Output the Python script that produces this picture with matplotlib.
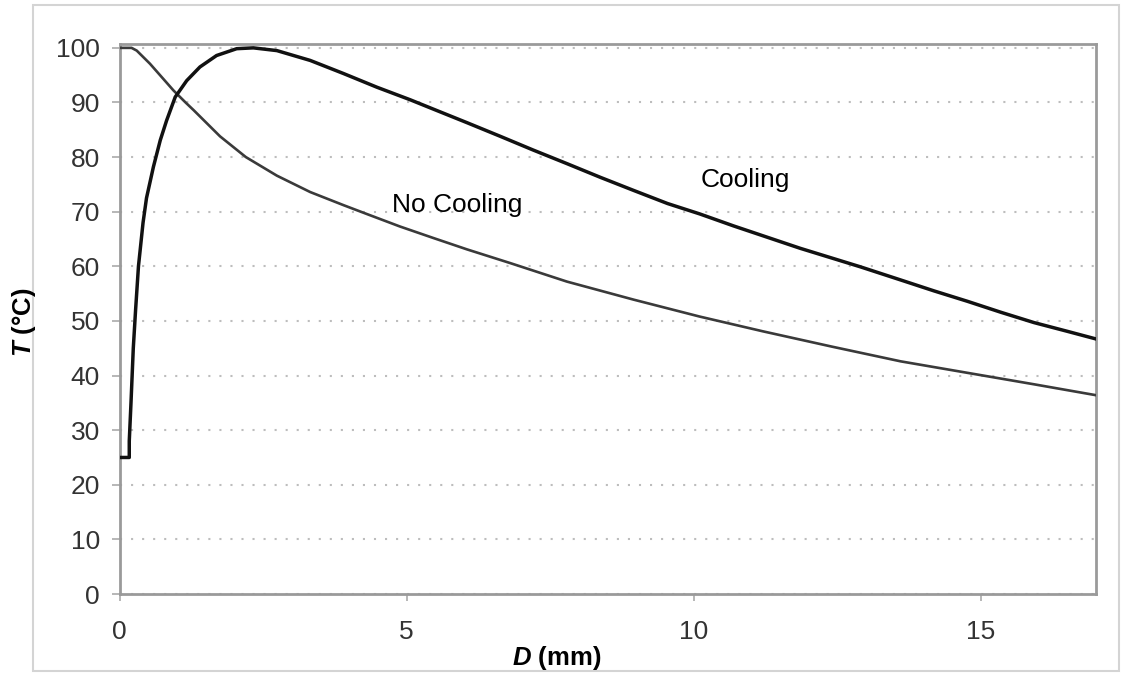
import matplotlib.pyplot as plt
from matplotlib.patches import Rectangle

plt.rcParams['font.family'] = ['Liberation Sans', 'DejaVu Sans']
plt.rcParams['mathtext.fontset'] = 'custom'
plt.rcParams['mathtext.bfit'] = 'Liberation Sans:bold:italic'

# Cooling curve (D in mm, T in degC)
cool_d = [0, 0.17, 0.17, 0.2, 0.24, 0.28, 0.33, 0.41, 0.47, 0.59, 0.71, 0.82,
          0.97, 1.17, 1.40, 1.69, 2.04, 2.33, 2.74, 3.32, 3.90, 4.48, 5.06,
          5.46, 6.05, 6.63, 7.2, 7.79, 8.37, 8.95, 9.54, 10.1, 10.69, 11.85,
          12.9, 13.6, 14.18, 14.76, 15.34, 15.92, 16.5, 17.0]
cool_t = [25, 25, 28, 35, 45, 52, 60, 68, 72.5, 78.2, 83.1, 86.7,
          91, 94, 96.5, 98.6, 99.85, 100, 99.5, 97.7, 95.3, 92.8, 90.5,
          88.8, 86.3, 83.8, 81.3, 78.8, 76.3, 73.9, 71.5, 69.6, 67.4, 63.3,
          59.9, 57.5, 55.5, 53.6, 51.6, 49.7, 48.1, 46.7]

# No cooling curve
nocool_d = [0, 0.21, 0.30, 0.53, 0.94, 1.15, 1.29, 1.75, 2.2, 2.74, 3.32,
            3.9, 4.3, 4.88, 5.46, 6.05, 6.8, 7.79, 8.95, 10.1, 11.2, 12.4,
            13.6, 14.76, 15.92, 17.0]
nocool_t = [100, 100, 99.5, 97.1, 92.2, 90, 88.6, 83.8, 80, 76.6, 73.6,
            71.2, 69.6, 67.3, 65.2, 63.1, 60.6, 57.2, 53.9, 50.8, 48.1, 45.3,
            42.6, 40.5, 38.4, 36.4]

x_ticks = [0, 5, 10, 15]
y_ticks = list(range(0, 101, 10))

fig = plt.figure(figsize=(11.22, 6.73), dpi=100)
ax = fig.add_axes([119.5/1122, 1-594/673, (1096-119.5)/1122, (594-43.5)/673])

# light frame round the whole chart
fig.patches.append(Rectangle((33/1122, 1-671/673), (1119-33)/1122, (671-5)/673,
                             transform=fig.transFigure, fill=False,
                             edgecolor='#d4d4d4', lw=1.5))

ax.plot(nocool_d, nocool_t, color='#3a3a3a', lw=1.9, zorder=3,
        solid_joinstyle='round')
ax.plot(cool_d, cool_t, color='#111111', lw=2.5, zorder=4,
        solid_joinstyle='round')

ax.set_xlim(0, 17)
ax.set_ylim(0, 100.8)
ax.set_xticks(x_ticks)
ax.set_yticks(y_ticks)

ax.yaxis.grid(True, linestyle=(0, (1, 4.3)), color='#bdbdbd', lw=1.5)
ax.set_axisbelow(True)

for s in ax.spines.values():
    s.set_color('#9a9a9a')
    s.set_linewidth(2)

ax.tick_params(axis='y', length=6, width=1.2, color='#aaaaaa', pad=8,
               labelsize=19, labelcolor='#333333')
ax.tick_params(axis='x', length=5, width=1.2, color='#aaaaaa', pad=14,
               labelsize=19, labelcolor='#333333')

ax.text(5.88, 71.2, 'No Cooling', fontsize=19, ha='center', va='center')
ax.text(10.9, 75.8, 'Cooling', fontsize=19, ha='center', va='center')

fig.text(24/1122, 1-322/673, r'$\bfit{T}$ (°C)', rotation=90, ha='center',
         va='center', fontsize=18.5, fontweight='bold')
fig.text(557/1122, 1-658/673, r'$\bfit{D}$ (mm)', ha='center', va='center',
         fontsize=18.5, fontweight='bold')

fig.savefig('out.png', dpi=100)
